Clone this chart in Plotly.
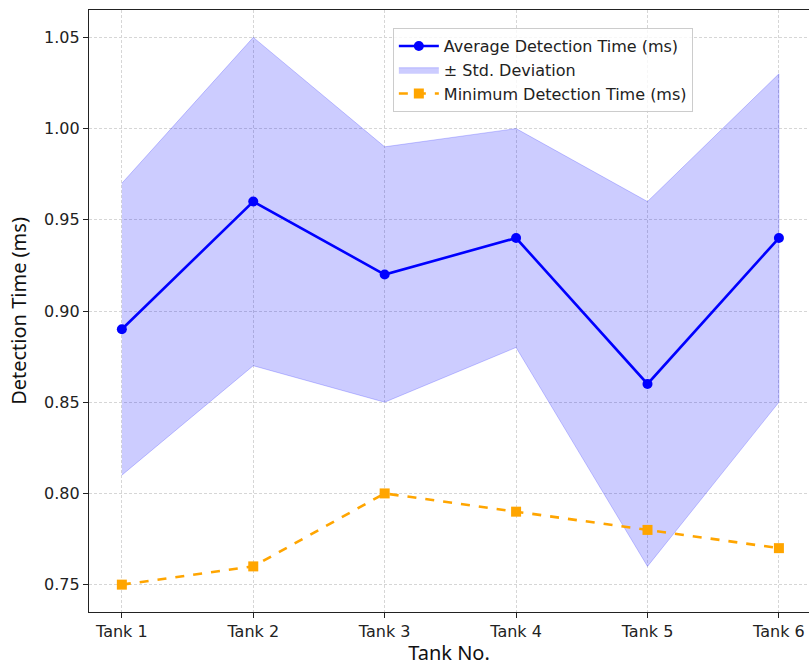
import plotly.graph_objects as go

tanks = ["Tank 1", "Tank 2", "Tank 3", "Tank 4", "Tank 5", "Tank 6"]
avg_time = [0.89, 0.96, 0.92, 0.94, 0.86, 0.94]
std_dev = [0.08, 0.09, 0.07, 0.06, 0.10, 0.09]
min_time = [0.75, 0.76, 0.80, 0.79, 0.78, 0.77]
y_ticks = [0.75, 0.80, 0.85, 0.90, 0.95, 1.00, 1.05]

upper = [a + s for a, s in zip(avg_time, std_dev)]
lower = [a - s for a, s in zip(avg_time, std_dev)]

tick_font = dict(family="DejaVu Sans", size=16, color="#222222")
title_font = dict(family="Noto Sans", size=20, color="#111111")
grid = dict(showgrid=True, gridcolor="#d6d6d6", griddash="3px,2px", gridwidth=0.8)

fig = go.Figure()

# shaded band of one standard deviation around the mean
fig.add_trace(go.Scatter(
    x=tanks + tanks[::-1],
    y=upper + lower[::-1],
    fill="toself",
    fillcolor="rgba(0,0,255,0.2)",
    line=dict(color="rgba(0,0,255,0.2)", width=1),
    mode="lines",
    name="± Std. Deviation",
    legendrank=2,
    hoverinfo="skip",
))

fig.add_trace(go.Scatter(
    x=tanks, y=avg_time,
    mode="lines+markers",
    line=dict(color="#0000ff", width=2.6),
    marker=dict(symbol="circle", size=10, color="#0000ff"),
    name="Average Detection Time (ms)",
    legendrank=1,
))

fig.add_trace(go.Scatter(
    x=tanks, y=min_time,
    mode="lines+markers",
    line=dict(color="#ffa500", width=2.6, dash="dash"),
    marker=dict(symbol="square", size=10, color="#ffa500"),
    name="Minimum Detection Time (ms)",
    legendrank=3,
))

fig.update_layout(
    width=809, height=666,
    margin=dict(l=89, r=0, t=10, b=54),
    paper_bgcolor="white",
    plot_bgcolor="white",
    showlegend=True,
    legend=dict(
        x=0.422, y=0.97, xanchor="left", yanchor="top",
        bgcolor="rgba(255,255,255,0.8)",
        bordercolor="#cccccc", borderwidth=1,
        font=dict(family="DejaVu Sans", size=16, color="#222222"),
        itemwidth=40,
        tracegroupgap=0,
    ),
)

fig.update_xaxes(
    type="category",
    categoryorder="array", categoryarray=tanks,
    range=[-0.25, 5.229],
    showline=True, linecolor="#222222", linewidth=1.3, mirror=True,
    ticks="outside", ticklen=5, tickcolor="#222222", tickwidth=1.2,
    tickfont=tick_font,
    zeroline=False,
    title=dict(text="Tank No.", font=title_font, standoff=12),
    **grid,
)

fig.update_yaxes(
    range=[0.735, 1.065],
    tickvals=y_ticks,
    ticktext=[f"{v:.2f}" for v in y_ticks],
    showline=True, linecolor="#222222", linewidth=1.3,
    ticks="outside", ticklen=5, tickcolor="#222222", tickwidth=1.2,
    tickfont=tick_font,
    zeroline=False,
    title=dict(text="Detection Time (ms)", font=title_font, standoff=12),
    **grid,
)

fig.write_html("out.html")
